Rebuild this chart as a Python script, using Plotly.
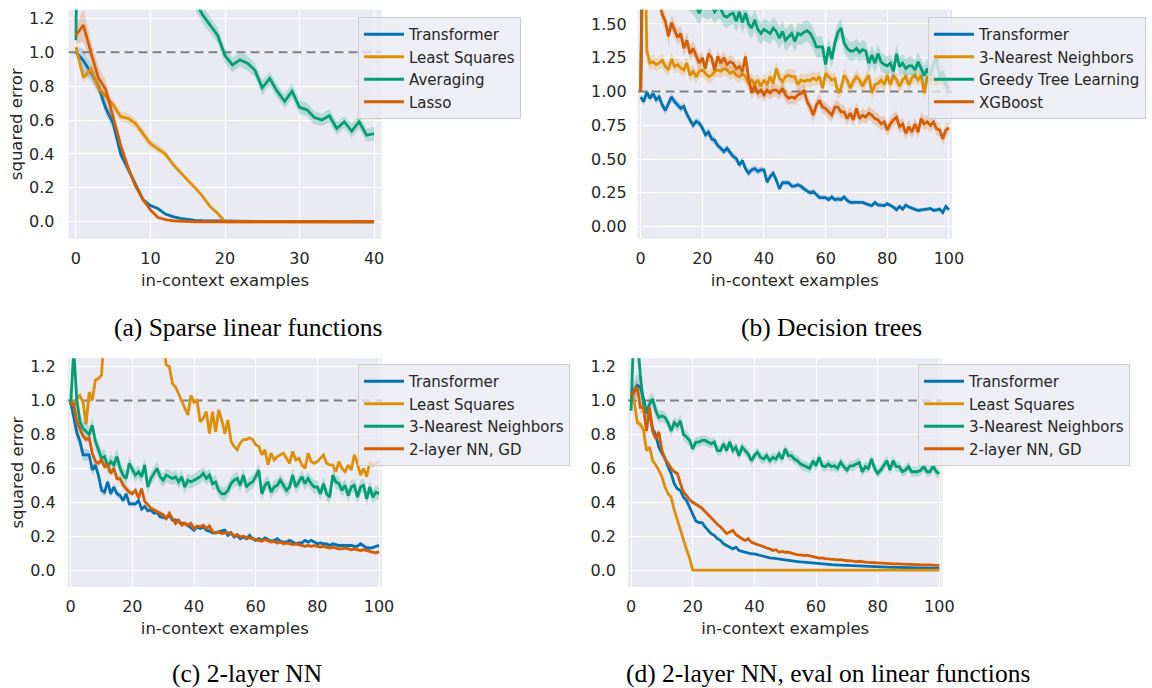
import plotly.graph_objects as go

W, H = 1152, 688

# ---------------- data ----------------
examples_a = list(range(0, 41))
examples_bcd = list(range(0, 101))

# (a) Sparse linear functions
a_transformer = [1.00, 0.95, 0.88, 0.80, 0.67, 0.58, 0.40, 0.31, 0.22, 0.13,
                 0.095, 0.078, 0.045, 0.03, 0.02, 0.012, 0.008, 0.006, 0.005, 0.004,
                 0.003, 0.002, 0.002, 0.002, 0.001, 0.001, 0.001, 0.001, 0.001, 0.001,
                 0.001, 0.001, 0.0, 0.0, 0.0, 0.0, 0.0, 0.0, 0.0, 0.0, 0.0]
a_least_squares = [1.03, 0.85, 0.90, 0.79, 0.74, 0.69, 0.62, 0.61, 0.58, 0.52,
                   0.46, 0.43, 0.40, 0.34, 0.29, 0.245, 0.20, 0.15, 0.09, 0.05,
                   0.0, 0.0, 0.0, 0.0, 0.0, 0.0, 0.0, 0.0, 0.0, 0.0,
                   0.0, 0.0, 0.0, 0.0, 0.0, 0.0, 0.0, 0.0, 0.0, 0.0, 0.0]
a_averaging = [1.07, 5.5, 3.6, 2.9, 2.5, 2.2, 2.0, 1.85, 1.75, 1.68,
               1.60, 1.55, 1.50, 1.45, 1.40, 1.35, 1.30, 1.22, 1.16, 1.10,
               0.98, 0.925, 0.955, 0.935, 0.895, 0.79, 0.845, 0.77, 0.71, 0.77,
               0.675, 0.66, 0.615, 0.60, 0.625, 0.55, 0.59, 0.535, 0.59, 0.51, 0.52]
a_lasso = [1.10, 1.16, 1.00, 0.85, 0.78, 0.62, 0.45, 0.32, 0.21, 0.13,
           0.07, 0.025, 0.012, 0.006, 0.003, 0.001, 0.0, 0.0, 0.0, 0.0,
           0.0, 0.0, 0.0, 0.0, 0.0, 0.0, 0.0, 0.0, 0.0, 0.0,
           0.0, 0.0, 0.0, 0.0, 0.0, 0.0, 0.0, 0.0, 0.0, 0.0, 0.0]
a_transformer_ci = [0.03, 0.07, 0.05, 0.04, 0.04, 0.035, 0.025, 0.02, 0.015, 0.012,
                    0.01, 0.008, 0.006, 0.004, 0.003, 0.002, 0.001, 0.001, 0.001, 0.001,
                    0.001, 0.001, 0.001, 0.001, 0.001, 0.001, 0.001, 0.001, 0.001, 0.001,
                    0.0, 0.0, 0.0, 0.0, 0.0, 0.0, 0.0, 0.0, 0.0, 0.0, 0.0]
a_least_squares_ci = [0.02, 0.03, 0.03, 0.03, 0.03, 0.03, 0.03, 0.03, 0.03, 0.03,
                      0.025, 0.025, 0.02, 0.015, 0.012, 0.01, 0.008, 0.006, 0.005, 0.003,
                      0.0, 0.0, 0.0, 0.0, 0.0, 0.0, 0.0, 0.0, 0.0, 0.0,
                      0.0, 0.0, 0.0, 0.0, 0.0, 0.0, 0.0, 0.0, 0.0, 0.0, 0.0]
a_averaging_ci = [0.04, 0.3, 0.2, 0.15, 0.12, 0.1, 0.09, 0.08, 0.07, 0.07,
                  0.06, 0.06, 0.06, 0.06, 0.055, 0.055, 0.05, 0.05, 0.05, 0.045,
                  0.045, 0.045, 0.04, 0.045, 0.04, 0.045, 0.04, 0.04, 0.04, 0.045,
                  0.04, 0.04, 0.04, 0.035, 0.04, 0.04, 0.035, 0.04, 0.04, 0.04, 0.04]
a_lasso_ci = [0.05, 0.10, 0.07, 0.07, 0.05, 0.04, 0.03, 0.02, 0.015, 0.01,
              0.007, 0.004, 0.002, 0.001, 0.001, 0.0, 0.0, 0.0, 0.0, 0.0,
              0.0, 0.0, 0.0, 0.0, 0.0, 0.0, 0.0, 0.0, 0.0, 0.0,
              0.0, 0.0, 0.0, 0.0, 0.0, 0.0, 0.0, 0.0, 0.0, 0.0, 0.0]

# (b) Decision trees
b_transformer = [0.96, 0.925, 0.995, 0.95, 0.985, 0.94, 0.96, 0.90, 0.86, 0.91,
                 0.96, 0.925, 0.90, 0.875, 0.89, 0.83, 0.79, 0.75, 0.78, 0.765,
                 0.73, 0.68, 0.70, 0.65, 0.64, 0.60, 0.58, 0.555, 0.58, 0.545,
                 0.52, 0.505, 0.455, 0.49, 0.43, 0.395, 0.42, 0.43, 0.41, 0.42,
                 0.42, 0.33, 0.37, 0.395, 0.345, 0.28, 0.325, 0.325, 0.325, 0.30,
                 0.30, 0.31, 0.30, 0.28, 0.265, 0.25, 0.26, 0.235, 0.215, 0.215,
                 0.215, 0.20, 0.22, 0.20, 0.205, 0.20, 0.22, 0.195, 0.18, 0.18,
                 0.18, 0.18, 0.18, 0.17, 0.16, 0.155, 0.18, 0.16, 0.16, 0.155,
                 0.17, 0.16, 0.145, 0.125, 0.15, 0.13, 0.16, 0.145, 0.135, 0.13,
                 0.12, 0.125, 0.125, 0.13, 0.135, 0.12, 0.125, 0.13, 0.105, 0.15,
                 0.125]
b_knn = [1.0, 2.6, 1.30, 1.21, 1.22, 1.20, 1.21, 1.23, 1.185, 1.16,
         1.24, 1.185, 1.20, 1.175, 1.16, 1.21, 1.12, 1.15, 1.11, 1.15,
         1.16, 1.135, 1.11, 1.12, 1.15, 1.16, 1.15, 1.17, 1.16, 1.135,
         1.15, 1.12, 1.11, 1.135, 1.11, 1.06, 1.085, 1.05, 1.085, 1.04,
         1.085, 1.05, 1.11, 1.06, 1.17, 1.10, 1.075, 1.11, 1.12, 1.11,
         1.11, 1.05, 1.085, 1.075, 1.085, 1.08, 1.10, 1.085, 1.11, 1.025,
         1.135, 1.11, 1.085, 1.095, 0.99, 1.025, 1.12, 1.085, 1.025, 1.075,
         1.11, 1.085, 1.04, 1.085, 1.12, 0.99, 1.05, 1.06, 1.085, 1.05,
         1.12, 1.05, 1.12, 1.085, 1.04, 1.085, 1.11, 1.05, 1.10, 1.12,
         1.085, 1.12, 0.99, 1.11, 1.08, 1.10, 1.05, 1.12, 1.07, 1.04,
         1.02]
b_greedy_tree = [1.0, 3.0, 2.5, 2.2, 2.1, 2.0, 1.95, 1.9, 1.85, 1.82,
                 1.8, 1.78, 1.75, 1.72, 1.7, 1.7, 1.68, 1.66, 1.63, 1.58,
                 1.64, 1.63, 1.62, 1.64, 1.59, 1.62, 1.61, 1.56, 1.55, 1.57,
                 1.58, 1.52, 1.59, 1.51, 1.58, 1.50, 1.47, 1.53, 1.46, 1.43,
                 1.46, 1.445, 1.43, 1.47, 1.445, 1.395, 1.445, 1.38, 1.405, 1.43,
                 1.37, 1.43, 1.42, 1.44, 1.45, 1.43, 1.39, 1.33, 1.33, 1.33,
                 1.20, 1.33, 1.24, 1.36, 1.44, 1.47, 1.36, 1.32, 1.30, 1.30,
                 1.32, 1.29, 1.31, 1.30, 1.21, 1.27, 1.21, 1.28, 1.22, 1.20,
                 1.19, 1.21, 1.15, 1.28, 1.185, 1.21, 1.17, 1.19, 1.19, 1.16,
                 1.22, 1.17, 1.12, 1.17, 1.12, 1.20, 1.25, 1.10, 1.15, 1.05,
                 1.02]
b_xgboost = [1.0, 2.5, 2.0, 1.85, 1.8, 1.75, 1.68, 1.57, 1.52, 1.41,
             1.51, 1.46, 1.40, 1.43, 1.32, 1.38, 1.28, 1.32, 1.27, 1.21,
             1.25, 1.17, 1.28, 1.25, 1.16, 1.26, 1.21, 1.25, 1.20, 1.22,
             1.21, 1.17, 1.185, 1.15, 1.26, 1.10, 0.99, 1.04, 0.99, 1.01,
             0.975, 1.01, 0.99, 1.01, 1.01, 0.99, 1.025, 0.975, 0.95, 0.96,
             0.95, 0.975, 0.985, 1.01, 0.925, 0.885, 0.825, 0.90, 0.935, 0.885,
             0.875, 0.85, 0.825, 0.885, 0.885, 0.85, 0.85, 0.80, 0.84, 0.79,
             0.875, 0.80, 0.825, 0.81, 0.84, 0.825, 0.80, 0.79, 0.76, 0.775,
             0.715, 0.76, 0.79, 0.81, 0.74, 0.76, 0.69, 0.74, 0.70, 0.76,
             0.70, 0.80, 0.76, 0.775, 0.75, 0.775, 0.725, 0.715, 0.65, 0.715,
             0.73]
b_transformer_ci = [0.02, 0.03, 0.03, 0.03, 0.03, 0.03, 0.03, 0.03, 0.03, 0.03,
                    0.03, 0.03, 0.03, 0.03, 0.03, 0.03, 0.03, 0.03, 0.03, 0.03,
                    0.03, 0.03, 0.03, 0.03, 0.03, 0.025, 0.025, 0.025, 0.025, 0.025,
                    0.025, 0.025, 0.025, 0.025, 0.025, 0.025, 0.025, 0.025, 0.025, 0.025,
                    0.025, 0.025, 0.025, 0.025, 0.02, 0.02, 0.02, 0.02, 0.02, 0.02,
                    0.02, 0.02, 0.02, 0.02, 0.02, 0.02, 0.02, 0.02, 0.02, 0.02,
                    0.02, 0.02, 0.02, 0.02, 0.02, 0.02, 0.02, 0.02, 0.02, 0.02,
                    0.015, 0.015, 0.015, 0.015, 0.015, 0.015, 0.015, 0.015, 0.015, 0.015,
                    0.015, 0.015, 0.015, 0.015, 0.015, 0.015, 0.015, 0.015, 0.015, 0.015,
                    0.015, 0.015, 0.015, 0.015, 0.015, 0.015, 0.015, 0.015, 0.015, 0.015,
                    0.015]
b_knn_ci = [0.0, 0.2, 0.08, 0.05, 0.05, 0.05, 0.05, 0.05, 0.05, 0.05,
            0.05, 0.05, 0.05, 0.05, 0.05, 0.05, 0.05, 0.05, 0.05, 0.05,
            0.05, 0.05, 0.05, 0.05, 0.05, 0.05, 0.05, 0.05, 0.05, 0.05,
            0.05, 0.05, 0.05, 0.05, 0.05, 0.05, 0.05, 0.05, 0.05, 0.05,
            0.05, 0.05, 0.05, 0.05, 0.05, 0.05, 0.05, 0.05, 0.05, 0.05,
            0.05, 0.05, 0.05, 0.05, 0.05, 0.05, 0.05, 0.05, 0.05, 0.05,
            0.05, 0.05, 0.05, 0.05, 0.05, 0.05, 0.05, 0.05, 0.05, 0.05,
            0.05, 0.05, 0.05, 0.05, 0.05, 0.05, 0.05, 0.05, 0.05, 0.05,
            0.05, 0.05, 0.05, 0.05, 0.05, 0.05, 0.05, 0.05, 0.05, 0.05,
            0.05, 0.05, 0.05, 0.05, 0.05, 0.05, 0.05, 0.05, 0.05, 0.05,
            0.05]
b_greedy_tree_ci = [0.0, 0.3, 0.2, 0.15, 0.12, 0.1, 0.1, 0.1, 0.1, 0.09,
                    0.09, 0.09, 0.09, 0.09, 0.09, 0.09, 0.09, 0.09, 0.09, 0.09,
                    0.09, 0.09, 0.09, 0.09, 0.09, 0.08, 0.08, 0.08, 0.08, 0.08,
                    0.08, 0.08, 0.08, 0.08, 0.08, 0.08, 0.08, 0.08, 0.08, 0.08,
                    0.08, 0.08, 0.08, 0.08, 0.08, 0.08, 0.08, 0.08, 0.08, 0.08,
                    0.08, 0.08, 0.08, 0.08, 0.08, 0.08, 0.08, 0.08, 0.08, 0.08,
                    0.07, 0.07, 0.07, 0.07, 0.07, 0.07, 0.07, 0.07, 0.07, 0.07,
                    0.07, 0.07, 0.07, 0.07, 0.07, 0.07, 0.07, 0.07, 0.07, 0.07,
                    0.07, 0.07, 0.07, 0.07, 0.07, 0.07, 0.07, 0.07, 0.07, 0.07,
                    0.07, 0.07, 0.07, 0.07, 0.07, 0.07, 0.07, 0.07, 0.07, 0.07,
                    0.07]
b_xgboost_ci = [0.0, 0.2, 0.1, 0.08, 0.07, 0.06, 0.06, 0.06, 0.06, 0.06,
                0.06, 0.06, 0.06, 0.06, 0.06, 0.06, 0.06, 0.06, 0.06, 0.06,
                0.05, 0.05, 0.05, 0.05, 0.05, 0.05, 0.05, 0.05, 0.05, 0.05,
                0.05, 0.05, 0.05, 0.05, 0.05, 0.05, 0.05, 0.05, 0.05, 0.05,
                0.05, 0.05, 0.05, 0.05, 0.05, 0.05, 0.05, 0.05, 0.05, 0.05,
                0.05, 0.05, 0.05, 0.05, 0.05, 0.05, 0.05, 0.05, 0.05, 0.05,
                0.05, 0.05, 0.05, 0.05, 0.05, 0.05, 0.05, 0.05, 0.05, 0.05,
                0.05, 0.05, 0.05, 0.05, 0.05, 0.05, 0.05, 0.05, 0.05, 0.05,
                0.05, 0.05, 0.05, 0.05, 0.05, 0.05, 0.05, 0.05, 0.05, 0.05,
                0.05, 0.05, 0.05, 0.05, 0.05, 0.05, 0.05, 0.05, 0.05, 0.05,
                0.05]

# (c) 2-layer NN
c_transformer = [0.99, 0.905, 0.81, 0.76, 0.68, 0.68, 0.68, 0.59, 0.62, 0.56,
                 0.47, 0.46, 0.52, 0.45, 0.49, 0.45, 0.44, 0.41, 0.45, 0.39,
                 0.39, 0.39, 0.41, 0.36, 0.375, 0.35, 0.355, 0.335, 0.34, 0.315,
                 0.31, 0.305, 0.325, 0.295, 0.295, 0.285, 0.275, 0.275, 0.265, 0.25,
                 0.235, 0.255, 0.245, 0.255, 0.235, 0.23, 0.22, 0.22, 0.225, 0.23,
                 0.235, 0.205, 0.22, 0.195, 0.205, 0.185, 0.195, 0.185, 0.205, 0.185,
                 0.175, 0.185, 0.175, 0.19, 0.18, 0.17, 0.175, 0.185, 0.17, 0.165,
                 0.165, 0.175, 0.165, 0.155, 0.16, 0.16, 0.175, 0.165, 0.175, 0.165,
                 0.155, 0.16, 0.155, 0.155, 0.145, 0.155, 0.15, 0.145, 0.145, 0.145,
                 0.145, 0.145, 0.14, 0.14, 0.155, 0.145, 0.13, 0.13, 0.132, 0.14,
                 0.145]
c_least_squares = [0.99, 0.97, 1.01, 1.03, 0.99, 0.86, 1.05, 1.0, 1.12, 1.13,
                   1.15, 1.35, 1.6, 1.75, 1.9, 2.1, 2.3, 2.6, 3.0, 3.5,
                   4.0, 3.4, 2.8, 2.4, 2.1, 1.9, 1.7, 1.55, 1.45, 1.4,
                   1.35, 1.21, 1.20, 1.10, 1.08, 1.04, 1.0, 0.96, 0.915, 1.03,
                   0.99, 1.0, 0.875, 0.895, 0.935, 0.805, 0.935, 0.815, 0.945, 0.885,
                   0.805, 0.885, 0.76, 0.73, 0.71, 0.75, 0.77, 0.77, 0.78, 0.77,
                   0.74, 0.73, 0.68, 0.71, 0.62, 0.69, 0.65, 0.67, 0.68, 0.69,
                   0.66, 0.63, 0.70, 0.65, 0.66, 0.62, 0.60, 0.69, 0.64, 0.63,
                   0.64, 0.66, 0.68, 0.63, 0.62, 0.62, 0.58, 0.64, 0.60, 0.58,
                   0.62, 0.59, 0.68, 0.63, 0.56, 0.60, 0.55, 0.64, 0.62, 0.63,
                   0.64]
c_knn = [0.975, 1.3, 1.0, 0.875, 0.835, 0.815, 0.80, 0.855, 0.76, 0.71,
         0.66, 0.67, 0.61, 0.64, 0.62, 0.67, 0.60, 0.56, 0.54, 0.63,
         0.59, 0.56, 0.58, 0.55, 0.62, 0.49, 0.54, 0.57, 0.60, 0.55,
         0.53, 0.56, 0.55, 0.54, 0.55, 0.52, 0.55, 0.49, 0.53, 0.52,
         0.53, 0.54, 0.55, 0.57, 0.54, 0.56, 0.51, 0.52, 0.47, 0.45,
         0.45, 0.47, 0.51, 0.53, 0.54, 0.50, 0.56, 0.49, 0.51, 0.52,
         0.55, 0.59, 0.45, 0.50, 0.52, 0.46, 0.49, 0.50, 0.53, 0.50,
         0.47, 0.49, 0.56, 0.49, 0.52, 0.55, 0.51, 0.54, 0.51, 0.49,
         0.49, 0.45, 0.51, 0.45, 0.43, 0.56, 0.52, 0.51, 0.47, 0.50,
         0.44, 0.49, 0.50, 0.43, 0.49, 0.50, 0.42, 0.49, 0.43, 0.46,
         0.45]
c_nn_gd = [0.99, 0.98, 0.875, 0.83, 0.79, 0.77, 0.78, 0.69, 0.64, 0.63,
           0.65, 0.61, 0.62, 0.57, 0.60, 0.54, 0.54, 0.50, 0.48, 0.46,
           0.45, 0.47, 0.425, 0.48, 0.405, 0.385, 0.365, 0.355, 0.345, 0.335,
           0.325, 0.305, 0.335, 0.305, 0.275, 0.295, 0.265, 0.275, 0.265, 0.275,
           0.245, 0.26, 0.255, 0.265, 0.245, 0.26, 0.225, 0.22, 0.225, 0.215,
           0.22, 0.22, 0.215, 0.20, 0.21, 0.195, 0.20, 0.19, 0.19, 0.185,
           0.18, 0.175, 0.17, 0.18, 0.17, 0.165, 0.17, 0.16, 0.165, 0.155,
           0.16, 0.155, 0.15, 0.155, 0.15, 0.145, 0.14, 0.145, 0.14, 0.145,
           0.14, 0.135, 0.14, 0.135, 0.13, 0.135, 0.13, 0.125, 0.125, 0.13,
           0.125, 0.12, 0.125, 0.12, 0.115, 0.12, 0.115, 0.11, 0.105, 0.10,
           0.11]
c_transformer_ci = [0.01, 0.04, 0.04, 0.04, 0.035, 0.035, 0.03, 0.03, 0.03, 0.025,
                    0.025, 0.025, 0.02, 0.02, 0.02, 0.02, 0.02, 0.015, 0.015, 0.015,
                    0.015, 0.015, 0.015, 0.015, 0.012, 0.012, 0.012, 0.012, 0.012, 0.012,
                    0.012, 0.012, 0.012, 0.012, 0.012, 0.012, 0.012, 0.012, 0.012, 0.012,
                    0.01, 0.01, 0.01, 0.01, 0.01, 0.01, 0.01, 0.01, 0.01, 0.01,
                    0.01, 0.01, 0.01, 0.01, 0.01, 0.01, 0.01, 0.01, 0.01, 0.01,
                    0.01, 0.01, 0.01, 0.01, 0.01, 0.01, 0.01, 0.01, 0.01, 0.01,
                    0.01, 0.01, 0.01, 0.01, 0.01, 0.01, 0.01, 0.01, 0.01, 0.01,
                    0.01, 0.01, 0.01, 0.01, 0.01, 0.01, 0.01, 0.01, 0.01, 0.01,
                    0.01, 0.01, 0.01, 0.01, 0.01, 0.01, 0.01, 0.01, 0.01, 0.01,
                    0.01]
c_knn_ci = [0.02, 0.08, 0.06, 0.05, 0.05, 0.05, 0.045, 0.045, 0.045, 0.045,
            0.045, 0.045, 0.045, 0.045, 0.045, 0.045, 0.045, 0.045, 0.045, 0.045,
            0.04, 0.04, 0.04, 0.04, 0.04, 0.04, 0.04, 0.04, 0.04, 0.04,
            0.04, 0.04, 0.04, 0.04, 0.04, 0.04, 0.04, 0.04, 0.04, 0.04,
            0.04, 0.04, 0.04, 0.04, 0.04, 0.04, 0.04, 0.04, 0.04, 0.04,
            0.04, 0.04, 0.04, 0.04, 0.04, 0.04, 0.04, 0.04, 0.04, 0.04,
            0.04, 0.04, 0.04, 0.04, 0.04, 0.04, 0.04, 0.04, 0.04, 0.04,
            0.04, 0.04, 0.04, 0.04, 0.04, 0.04, 0.04, 0.04, 0.04, 0.04,
            0.04, 0.04, 0.04, 0.04, 0.04, 0.04, 0.04, 0.04, 0.04, 0.04,
            0.04, 0.04, 0.04, 0.04, 0.04, 0.04, 0.04, 0.04, 0.04, 0.04,
            0.04]
c_nn_gd_ci = [0.01, 0.02, 0.02, 0.02, 0.02, 0.02, 0.02, 0.02, 0.02, 0.02,
              0.02, 0.02, 0.02, 0.02, 0.02, 0.02, 0.02, 0.02, 0.02, 0.02,
              0.015, 0.015, 0.015, 0.015, 0.015, 0.015, 0.015, 0.015, 0.015, 0.015,
              0.015, 0.015, 0.015, 0.015, 0.015, 0.015, 0.015, 0.015, 0.015, 0.015,
              0.01, 0.01, 0.01, 0.01, 0.01, 0.01, 0.01, 0.01, 0.01, 0.01,
              0.01, 0.01, 0.01, 0.01, 0.01, 0.01, 0.01, 0.01, 0.01, 0.01,
              0.01, 0.01, 0.01, 0.01, 0.01, 0.01, 0.01, 0.01, 0.01, 0.01,
              0.01, 0.01, 0.01, 0.01, 0.01, 0.01, 0.01, 0.01, 0.01, 0.01,
              0.01, 0.01, 0.01, 0.01, 0.01, 0.01, 0.01, 0.01, 0.01, 0.01,
              0.01, 0.01, 0.01, 0.01, 0.01, 0.01, 0.01, 0.01, 0.01, 0.01,
              0.01]

# (d) 2-layer NN, eval on linear functions
d_transformer = [1.0, 1.06, 1.09, 1.08, 1.01, 0.93, 0.92, 0.83, 0.80, 0.725,
                 0.69, 0.66, 0.61, 0.57, 0.51, 0.48, 0.47, 0.43, 0.41, 0.37,
                 0.34, 0.29, 0.28, 0.28, 0.255, 0.235, 0.215, 0.205, 0.185, 0.175,
                 0.155, 0.145, 0.135, 0.125, 0.135, 0.115, 0.11, 0.105, 0.10, 0.095,
                 0.095, 0.09, 0.085, 0.08, 0.077, 0.072, 0.07, 0.067, 0.065, 0.062,
                 0.06, 0.058, 0.055, 0.053, 0.05, 0.048, 0.046, 0.044, 0.042, 0.04,
                 0.038, 0.036, 0.035, 0.034, 0.033, 0.032, 0.031, 0.03, 0.029, 0.028,
                 0.027, 0.026, 0.025, 0.024, 0.023, 0.022, 0.022, 0.021, 0.02, 0.02,
                 0.019, 0.018, 0.018, 0.017, 0.017, 0.016, 0.016, 0.015, 0.015, 0.014,
                 0.014, 0.013, 0.013, 0.013, 0.012, 0.012, 0.012, 0.011, 0.011, 0.011,
                 0.01]
d_least_squares = [1.04, 1.0, 0.87, 0.86, 0.83, 0.705, 0.725, 0.645, 0.62, 0.59,
                   0.55, 0.49, 0.45, 0.43, 0.355, 0.295, 0.235, 0.165, 0.12, 0.07,
                   0.0, 0.0, 0.0, 0.0, 0.0, 0.0, 0.0, 0.0, 0.0, 0.0,
                   0.0, 0.0, 0.0, 0.0, 0.0, 0.0, 0.0, 0.0, 0.0, 0.0,
                   0.0, 0.0, 0.0, 0.0, 0.0, 0.0, 0.0, 0.0, 0.0, 0.0,
                   0.0, 0.0, 0.0, 0.0, 0.0, 0.0, 0.0, 0.0, 0.0, 0.0,
                   0.0, 0.0, 0.0, 0.0, 0.0, 0.0, 0.0, 0.0, 0.0, 0.0,
                   0.0, 0.0, 0.0, 0.0, 0.0, 0.0, 0.0, 0.0, 0.0, 0.0,
                   0.0, 0.0, 0.0, 0.0, 0.0, 0.0, 0.0, 0.0, 0.0, 0.0,
                   0.0, 0.0, 0.0, 0.0, 0.0, 0.0, 0.0, 0.0, 0.0, 0.0,
                   0.0]
d_knn = [0.94, 1.5, 1.38, 1.15, 0.98, 0.93, 0.98, 1.01, 0.94, 0.90,
         0.91, 0.90, 0.87, 0.82, 0.87, 0.85, 0.88, 0.80, 0.785, 0.765,
         0.715, 0.755, 0.755, 0.765, 0.765, 0.755, 0.745, 0.755, 0.705, 0.705,
         0.745, 0.705, 0.755, 0.705, 0.725, 0.675, 0.725, 0.705, 0.685, 0.645,
         0.675, 0.695, 0.665, 0.655, 0.675, 0.645, 0.665, 0.655, 0.685, 0.655,
         0.715, 0.675, 0.675, 0.655, 0.645, 0.625, 0.615, 0.61, 0.60, 0.645,
         0.615, 0.665, 0.615, 0.61, 0.625, 0.61, 0.615, 0.60, 0.635, 0.61,
         0.59, 0.615, 0.615, 0.625, 0.635, 0.58, 0.61, 0.60, 0.655, 0.60,
         0.57, 0.59, 0.615, 0.645, 0.59, 0.645, 0.61, 0.61, 0.58, 0.59,
         0.61, 0.58, 0.58, 0.58, 0.59, 0.61, 0.58, 0.58, 0.615, 0.58,
         0.57]
d_nn_gd = [1.03, 1.05, 1.08, 0.96, 0.96, 0.82, 0.96, 0.82, 0.775, 0.815,
           0.705, 0.655, 0.63, 0.60, 0.58, 0.57, 0.51, 0.46, 0.44, 0.415,
           0.40, 0.39, 0.38, 0.365, 0.345, 0.325, 0.305, 0.285, 0.27, 0.255,
           0.235, 0.215, 0.225, 0.235, 0.21, 0.195, 0.185, 0.175, 0.185, 0.165,
           0.155, 0.15, 0.145, 0.135, 0.13, 0.125, 0.115, 0.12, 0.105, 0.11,
           0.105, 0.105, 0.10, 0.095, 0.09, 0.09, 0.085, 0.088, 0.085, 0.078,
           0.075, 0.07, 0.072, 0.068, 0.065, 0.066, 0.062, 0.06, 0.062, 0.058,
           0.055, 0.056, 0.052, 0.05, 0.052, 0.048, 0.047, 0.045, 0.046, 0.043,
           0.042, 0.042, 0.04, 0.04, 0.038, 0.037, 0.038, 0.036, 0.035, 0.035,
           0.034, 0.033, 0.033, 0.032, 0.03, 0.031, 0.03, 0.03, 0.029, 0.028,
           0.028]
d_transformer_ci = [0.03, 0.06, 0.07, 0.06, 0.05, 0.04, 0.035, 0.03, 0.025, 0.02,
                    0.02, 0.015, 0.015, 0.015, 0.012, 0.012, 0.01, 0.01, 0.01, 0.01,
                    0.008, 0.008, 0.008, 0.008, 0.008, 0.007, 0.007, 0.007, 0.007, 0.007,
                    0.006, 0.006, 0.006, 0.006, 0.006, 0.005, 0.005, 0.005, 0.005, 0.005,
                    0.005, 0.005, 0.005, 0.005, 0.005, 0.004, 0.004, 0.004, 0.004, 0.004,
                    0.004, 0.004, 0.004, 0.004, 0.004, 0.004, 0.004, 0.004, 0.004, 0.004,
                    0.003, 0.003, 0.003, 0.003, 0.003, 0.003, 0.003, 0.003, 0.003, 0.003,
                    0.003, 0.003, 0.003, 0.003, 0.003, 0.003, 0.003, 0.003, 0.003, 0.003,
                    0.003, 0.003, 0.003, 0.003, 0.003, 0.003, 0.003, 0.003, 0.003, 0.003,
                    0.003, 0.003, 0.003, 0.003, 0.003, 0.003, 0.003, 0.003, 0.003, 0.003,
                    0.003]
d_least_squares_ci = [0.02, 0.03, 0.025, 0.02, 0.02, 0.015, 0.015, 0.015, 0.012, 0.012,
                      0.01, 0.01, 0.01, 0.01, 0.008, 0.008, 0.006, 0.005, 0.004, 0.003,
                      0.0, 0.0, 0.0, 0.0, 0.0, 0.0, 0.0, 0.0, 0.0, 0.0,
                      0.0, 0.0, 0.0, 0.0, 0.0, 0.0, 0.0, 0.0, 0.0, 0.0,
                      0.0, 0.0, 0.0, 0.0, 0.0, 0.0, 0.0, 0.0, 0.0, 0.0,
                      0.0, 0.0, 0.0, 0.0, 0.0, 0.0, 0.0, 0.0, 0.0, 0.0,
                      0.0, 0.0, 0.0, 0.0, 0.0, 0.0, 0.0, 0.0, 0.0, 0.0,
                      0.0, 0.0, 0.0, 0.0, 0.0, 0.0, 0.0, 0.0, 0.0, 0.0,
                      0.0, 0.0, 0.0, 0.0, 0.0, 0.0, 0.0, 0.0, 0.0, 0.0,
                      0.0, 0.0, 0.0, 0.0, 0.0, 0.0, 0.0, 0.0, 0.0, 0.0,
                      0.0]
d_knn_ci = [0.05, 0.1, 0.08, 0.06, 0.05, 0.05, 0.045, 0.04, 0.04, 0.035,
            0.035, 0.035, 0.035, 0.035, 0.035, 0.035, 0.035, 0.035, 0.035, 0.035,
            0.03, 0.03, 0.03, 0.03, 0.03, 0.03, 0.03, 0.03, 0.03, 0.03,
            0.03, 0.03, 0.03, 0.03, 0.03, 0.03, 0.03, 0.03, 0.03, 0.03,
            0.03, 0.03, 0.03, 0.03, 0.03, 0.03, 0.03, 0.03, 0.03, 0.03,
            0.03, 0.03, 0.03, 0.03, 0.03, 0.03, 0.03, 0.03, 0.03, 0.03,
            0.03, 0.03, 0.03, 0.03, 0.03, 0.03, 0.03, 0.03, 0.03, 0.03,
            0.03, 0.03, 0.03, 0.03, 0.03, 0.03, 0.03, 0.03, 0.03, 0.03,
            0.03, 0.03, 0.03, 0.03, 0.03, 0.03, 0.03, 0.03, 0.03, 0.03,
            0.03, 0.03, 0.03, 0.03, 0.03, 0.03, 0.03, 0.03, 0.03, 0.03,
            0.03]
d_nn_gd_ci = [0.03, 0.04, 0.04, 0.035, 0.03, 0.03, 0.025, 0.02, 0.02, 0.02,
              0.015, 0.015, 0.015, 0.015, 0.015, 0.015, 0.012, 0.012, 0.012, 0.012,
              0.01, 0.01, 0.01, 0.01, 0.01, 0.01, 0.01, 0.01, 0.01, 0.01,
              0.008, 0.008, 0.008, 0.008, 0.008, 0.008, 0.008, 0.008, 0.008, 0.008,
              0.006, 0.006, 0.006, 0.006, 0.006, 0.006, 0.006, 0.006, 0.006, 0.006,
              0.005, 0.005, 0.005, 0.005, 0.005, 0.005, 0.005, 0.005, 0.005, 0.005,
              0.005, 0.005, 0.005, 0.005, 0.005, 0.005, 0.005, 0.005, 0.005, 0.005,
              0.004, 0.004, 0.004, 0.004, 0.004, 0.004, 0.004, 0.004, 0.004, 0.004,
              0.004, 0.004, 0.004, 0.004, 0.004, 0.004, 0.004, 0.004, 0.004, 0.004,
              0.004, 0.004, 0.004, 0.004, 0.004, 0.004, 0.004, 0.004, 0.004, 0.004,
              0.004]

y_ticks_a = [0.0, 0.2, 0.4, 0.6, 0.8, 1.0, 1.2]
y_ticks_b = [0.0, 0.25, 0.5, 0.75, 1.0, 1.25, 1.5]
x_ticks_a = [0, 10, 20, 30, 40]
x_ticks_bcd = [0, 20, 40, 60, 80, 100]
baseline = 1.0

captions = ["(a) Sparse linear functions", "(b) Decision trees",
            "(c) 2-layer NN", "(d) 2-layer NN, eval on linear functions"]

# ---------------- style ----------------
BLUE, ORANGE, GREEN, RED = "#0173b2", "#de8f05", "#029e73", "#d55e00"
TXT = "#262626"
SANS = "DejaVu Sans"


def rgba(h, a):
    h = h.lstrip("#")
    return "rgba(%d,%d,%d,%.3f)" % (int(h[0:2], 16), int(h[2:4], 16), int(h[4:6], 16), a)


panels = [
    dict(ax="", x=examples_a, dom=(68.5, 381.5, 9.8, 238.7), xr=[-1, 41], yr=[-0.1, 1.25],
         xt=x_ticks_a, yt=y_ticks_a, yfmt="%.1f", ytitle=True, legend="legend", leg=(358, 17),
         cap=(248, 327), ystand=13,
         series=[("Transformer", a_transformer, a_transformer_ci, BLUE),
                 ("Least Squares", a_least_squares, a_least_squares_ci, ORANGE),
                 ("Averaging", a_averaging, a_averaging_ci, GREEN),
                 ("Lasso", a_lasso, a_lasso_ci, RED)]),
    dict(ax="2", x=examples_bcd, dom=(637.6, 952.0, 9.8, 238.7), xr=[-1, 101], yr=[-0.089, 1.605],
         xt=x_ticks_bcd, yt=y_ticks_b, yfmt="%.2f", ytitle=False, legend="legend2", leg=(928, 17),
         cap=(831, 327), ystand=10,
         series=[("Transformer", b_transformer, b_transformer_ci, BLUE),
                 ("3-Nearest Neighbors", b_knn, b_knn_ci, ORANGE),
                 ("Greedy Tree Learning", b_greedy_tree, b_greedy_tree_ci, GREEN),
                 ("XGBoost", b_xgboost, b_xgboost_ci, RED)]),
    dict(ax="3", x=examples_bcd, dom=(67.6, 382.1, 358.2, 587.0), xr=[-1, 101], yr=[-0.1, 1.25],
         xt=x_ticks_bcd, yt=y_ticks_a, yfmt="%.1f", ytitle=True, legend="legend3", leg=(358, 364),
         cap=(247, 673), ystand=11,
         series=[("Transformer", c_transformer, c_transformer_ci, BLUE),
                 ("Least Squares", c_least_squares, None, ORANGE),
                 ("3-Nearest Neighbors", c_knn, c_knn_ci, GREEN),
                 ("2-layer NN, GD", c_nn_gd, c_nn_gd_ci, RED)]),
    dict(ax="4", x=examples_bcd, dom=(628.0, 942.4, 358.2, 587.0), xr=[-1, 101], yr=[-0.1, 1.25],
         xt=x_ticks_bcd, yt=y_ticks_a, yfmt="%.1f", ytitle=False, legend="legend4", leg=(918, 364),
         cap=(828, 673), ystand=11,
         series=[("Transformer", d_transformer, d_transformer_ci, BLUE),
                 ("Least Squares", d_least_squares, d_least_squares_ci, ORANGE),
                 ("3-Nearest Neighbors", d_knn, d_knn_ci, GREEN),
                 ("2-layer NN, GD", d_nn_gd, d_nn_gd_ci, RED)]),
]

fig = go.Figure()
layout = dict(width=W, height=H, margin=dict(l=0, r=0, t=0, b=0),
              paper_bgcolor="white", plot_bgcolor="#eaeaf2",
              font=dict(family=SANS, size=16, color=TXT), annotations=[])

for p in panels:
    xs = p["x"]
    xa, ya = "x" + p["ax"], "y" + p["ax"]
    # dashed reference line at squared error = 1 across the full axis range
    fig.add_trace(go.Scatter(x=p["xr"], y=[baseline, baseline], mode="lines",
                             line=dict(color="#808080", width=2, dash="9px,5px"),
                             hoverinfo="skip", showlegend=False, xaxis=xa, yaxis=ya))
    for name, vals, ci, col in p["series"]:
        assert len(vals) == len(xs), (name, len(vals))
        if ci is not None:
            assert len(ci) == len(xs), (name, "ci", len(ci))
            upper = [v + c for v, c in zip(vals, ci)]
            lower = [v - c for v, c in zip(vals, ci)]
            fig.add_trace(go.Scatter(x=xs + xs[::-1], y=upper + lower[::-1], fill="toself",
                                     fillcolor=rgba(col, 0.22), line=dict(width=0),
                                     mode="lines", hoverinfo="skip", showlegend=False,
                                     xaxis=xa, yaxis=ya))
        fig.add_trace(go.Scatter(x=xs, y=vals, mode="lines", name=name,
                                 line=dict(color=col, width=2.8),
                                 legend=p["legend"], xaxis=xa, yaxis=ya))
    x0, x1, y0, y1 = p["dom"]
    axis_common = dict(showgrid=True, gridcolor="white", gridwidth=1.4, zeroline=False,
                       showline=False, ticks="", tickfont=dict(family=SANS, size=16, color=TXT))
    layout["xaxis" + p["ax"]] = dict(
        domain=[x0 / W, x1 / W], range=p["xr"], anchor=ya, tickmode="array",
        tickvals=p["xt"], ticktext=[str(t) for t in p["xt"]], ticklabelstandoff=8,
        title=dict(text="in-context examples", font=dict(family=SANS, size=16.5, color=TXT),
                   standoff=7),
        automargin=False, **axis_common)
    ydict = dict(
        domain=[1 - y1 / H, 1 - y0 / H], range=p["yr"], anchor=xa, tickmode="array",
        tickvals=p["yt"], ticktext=[p["yfmt"] % t for t in p["yt"]],
        ticklabelstandoff=p["ystand"], automargin=False, **axis_common)
    if p["ytitle"]:
        ydict["title"] = dict(text="squared error",
                              font=dict(family=SANS, size=16.5, color=TXT), standoff=2)
    layout["yaxis" + p["ax"]] = ydict
    lx, ly = p["leg"]
    layout[p["legend"]] = dict(x=lx / W, y=1 - ly / H, xref="paper", yref="paper",
                               xanchor="left", yanchor="top", itemwidth=40,
                               bgcolor="rgba(234,234,242,0.8)", bordercolor="#cccccc",
                               borderwidth=1, font=dict(family=SANS, size=15, color=TXT))

for p, text in zip(panels, captions):
    cx, cy = p["cap"]
    layout["annotations"].append(dict(text=text, x=cx / W, y=1 - cy / H, xref="paper",
                                      yref="paper", xanchor="center", yanchor="middle",
                                      showarrow=False,
                                      font=dict(family="Liberation Serif", size=25.5, color="black")))

fig.update_layout(**layout)
fig.write_html("out.html", config={"displayModeBar": False},
               post_script="document.body.style.margin='0px';document.body.style.padding='0px';")
